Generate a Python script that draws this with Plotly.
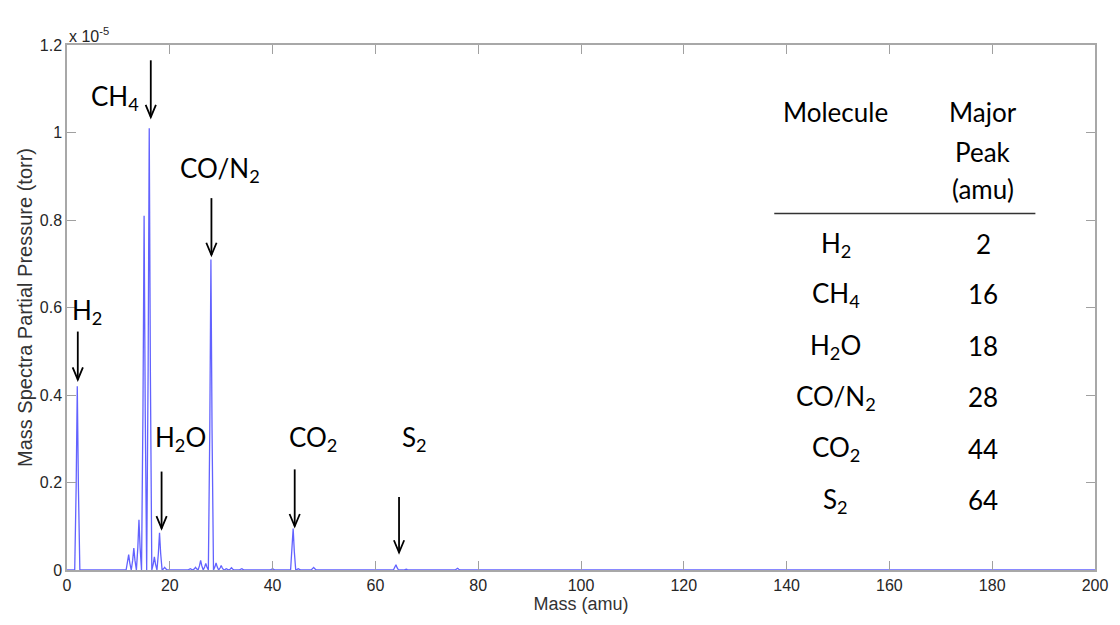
import plotly.graph_objects as go

# ---------------- data ----------------
# peak positions (amu) and heights (x 1e-5 torr)
peak_mass = [2, 12, 13, 14, 15, 16, 17, 18, 19, 24, 25, 26, 27, 28, 29, 30, 31, 32, 34, 40, 44, 45, 48, 64, 66, 76]
peak_height = [0.42, 0.035, 0.05, 0.115, 0.81, 1.01, 0.03, 0.085, 0.006, 0.003, 0.006, 0.022, 0.015,
               0.71, 0.016, 0.01, 0.003, 0.005, 0.003, 0.003, 0.095, 0.003, 0.006, 0.012, 0.002, 0.004]

# molecule labels with arrows: label text, arrow x (amu), arrow top, arrow tip, label x, label y
label_text = ["H<sub>2</sub>", "CH<sub>4</sub>", "CO/N<sub>2</sub>", "H<sub>2</sub>O", "CO<sub>2</sub>", "S<sub>2</sub>"]
arrow_x = [2.1, 16.3, 28.1, 18.4, 44.3, 64.6]
arrow_top = [0.545, 1.165, 0.85, 0.225, 0.23, 0.167]
arrow_tip = [0.435, 1.035, 0.72, 0.095, 0.10, 0.04]
label_x = [3.8, 9.4, 29.8, 22.0, 47.8, 67.6]
label_y = [0.59, 1.08, 0.915, 0.30, 0.30, 0.30]

# table
table_molecules = ["H<sub>2</sub>", "CH<sub>4</sub>", "H<sub>2</sub>O", "CO/N<sub>2</sub>", "CO<sub>2</sub>", "S<sub>2</sub>"]
table_peaks = [2, 16, 18, 28, 44, 64]

x_ticks = [0, 20, 40, 60, 80, 100, 120, 140, 160, 180, 200]
y_ticks = [0, 0.2, 0.4, 0.6, 0.8, 1.0, 1.2]
y_tick_text = ["0", "0.2", "0.4", "0.6", "0.8", "1", "1.2"]

# ---------------- build spectrum line from peaks ----------------
prof_dx = [-0.5, -0.22, 0.0, 0.22, 0.5]
prof_f = [0.0, 0.45, 1.0, 0.45, 0.0]
xs, ys = [0.0], [0.0]
for m, h in zip(peak_mass, peak_height):
    for dx, f in zip(prof_dx, prof_f):
        xs.append(m + dx)
        ys.append(h * f)
xs.append(200.0)
ys.append(0.0)

fig = go.Figure()
fig.add_trace(go.Scatter(x=xs, y=ys, mode="lines",
                         line=dict(color="rgba(70,70,255,0.85)", width=1.3),
                         showlegend=False, hoverinfo="skip"))

LAB_FONT = dict(family="Lato, Noto Sans, sans-serif", size=26, color="black")

# arrows (shaft + open V head)
for ax_, top, tip in zip(arrow_x, arrow_top, arrow_tip):
    fig.add_shape(type="line", x0=ax_, x1=ax_, y0=top, y1=tip, xref="x", yref="y",
                  line=dict(color="black", width=1.8))
    fig.add_shape(type="path", xref="x", yref="y",
                  path=f"M {ax_-1.0} {tip+0.028} L {ax_} {tip} L {ax_+1.0} {tip+0.028}",
                  line=dict(color="black", width=1.8))

for t, lx, ly in zip(label_text, label_x, label_y):
    fig.add_annotation(x=lx, y=ly, text=t, showarrow=False, xref="x", yref="y",
                       font=LAB_FONT, xanchor="center", yanchor="middle")

# table
col1_x, col2_x = 149.6, 178.3
fig.add_annotation(x=col1_x, y=1.047, text="Molecule", showarrow=False, font=LAB_FONT)
for t, yy in zip(["Major", "Peak", "(amu)"], [1.047, 0.955, 0.87]):
    fig.add_annotation(x=col2_x, y=yy, text=t, showarrow=False, font=LAB_FONT)
fig.add_shape(type="line", x0=137.6, x1=188.4, y0=0.815, y1=0.815, xref="x", yref="y",
              line=dict(color="#333333", width=1.5))
row_y = [0.745, 0.63, 0.512, 0.395, 0.277, 0.16]
for mol, pk, yy in zip(table_molecules, table_peaks, row_y):
    fig.add_annotation(x=col1_x, y=yy, text=mol, showarrow=False, font=LAB_FONT)
    fig.add_annotation(x=col2_x, y=yy, text=str(pk), showarrow=False, font=LAB_FONT)

# exponent label
fig.add_annotation(x=0, y=1.0, xref="paper", yref="paper", xanchor="left", yanchor="bottom",
                   text="x 10<sup>-5</sup>", showarrow=False, yshift=-2,
                   font=dict(family="Liberation Sans, Arial, sans-serif", size=16, color="#262626"))

TICK_FONT = dict(family="Liberation Sans, Arial, sans-serif", size=16, color="#262626")
TITLE_FONT = dict(family="Liberation Sans, Arial, sans-serif", size=18, color="#333333")
YTITLE_FONT = dict(family="Liberation Sans, Arial, sans-serif", size=20, color="#333333")
fig.update_xaxes(range=[0, 200], tickvals=x_ticks, showgrid=False, zeroline=False,
                 showline=True, linecolor="#a8a8a8", linewidth=1.5, mirror="ticks",
                 ticks="inside", ticklen=9, tickcolor="#a0a0a0", tickwidth=1.2,
                 tickfont=TICK_FONT, title=dict(text="Mass (amu)", font=TITLE_FONT, standoff=4))
fig.update_yaxes(range=[0, 1.2], tickvals=y_ticks, ticktext=y_tick_text,
                 showgrid=False, zeroline=False,
                 showline=True, linecolor="#a8a8a8", linewidth=1.5, mirror="ticks",
                 ticks="inside", ticklen=9, tickcolor="#a0a0a0", tickwidth=1.2,
                 tickfont=TICK_FONT,
                 title=dict(text="Mass Spectra Partial Pressure (torr)", font=YTITLE_FONT, standoff=2))

fig.update_layout(width=1120, height=625, margin=dict(l=67, r=19, t=45, b=55),
                  plot_bgcolor="white", paper_bgcolor="white")
fig.write_html("out.html")
